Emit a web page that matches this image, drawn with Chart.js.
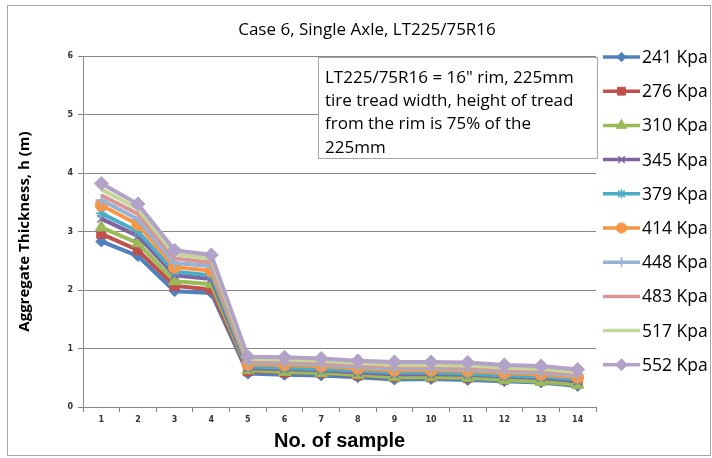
<!DOCTYPE html>
<html><head><meta charset="utf-8">
<script src="https://cdn.jsdelivr.net/npm/chart.js@4"></script>
<style>html,body{margin:0;padding:0;background:#fff}#wrap{width:712px;height:458px;position:relative}</style>
</head><body><div id="wrap"><canvas id="c" width="712" height="458"></canvas></div>
<script>
const chartTitle = 'Case 6, Single Axle, LT225/75R16';
const xAxisTitle = 'No. of sample';
const yAxisTitle = 'Aggregate Thickness, h (m)';
const noteLines = ['LT225/75R16 = 16" rim, 225mm', 'tire tread width, height of tread', 'from the rim is 75% of the', '225mm'];
const samples = ['1','2','3','4','5','6','7','8','9','10','11','12','13','14'];
const yTicks = [0,1,2,3,4,5,6];
const seriesNames = ['241 Kpa','276 Kpa','310 Kpa','345 Kpa','379 Kpa','414 Kpa','448 Kpa','483 Kpa','517 Kpa','552 Kpa'];
const s241 = [2.83,2.58,1.98,1.95,0.57,0.55,0.54,0.51,0.47,0.48,0.46,0.44,0.42,0.36];
const s276 = [2.96,2.68,2.07,2.01,0.61,0.59,0.58,0.54,0.51,0.51,0.50,0.47,0.45,0.40];
const s310 = [3.07,2.80,2.15,2.10,0.63,0.60,0.58,0.55,0.51,0.51,0.50,0.46,0.43,0.38];
const s345 = [3.22,2.92,2.25,2.19,0.66,0.65,0.63,0.59,0.56,0.56,0.55,0.52,0.50,0.44];
const s379 = [3.31,3.00,2.31,2.25,0.69,0.67,0.65,0.62,0.59,0.59,0.57,0.54,0.52,0.47];
const s414 = [3.45,3.12,2.39,2.33,0.73,0.72,0.70,0.66,0.63,0.63,0.62,0.58,0.56,0.51];
const s448 = [3.54,3.21,2.46,2.41,0.76,0.75,0.73,0.69,0.66,0.66,0.65,0.61,0.59,0.54];
const s483 = [3.62,3.30,2.54,2.47,0.79,0.78,0.76,0.72,0.69,0.69,0.68,0.64,0.62,0.57];
const s517 = [3.72,3.39,2.61,2.54,0.82,0.81,0.79,0.75,0.72,0.72,0.71,0.67,0.65,0.60];
const s552 = [3.82,3.47,2.68,2.60,0.86,0.85,0.83,0.79,0.77,0.77,0.76,0.72,0.70,0.64];

const seriesValues = [s241,s276,s310,s345,s379,s414,s448,s483,s517,s552];
const colors = ['#4F81BD','#C0504D','#9BBB59','#8064A2','#4BACC6','#F79646','#95B3D7','#D99694','#C3D69B','#B3A2C7'];
const markers = ['rectRot','rect','triangle','crossRot','star','circle','cross','circle','circle','rectRot'];
const radii = [5.5,6.5,7,5.5,5.5,6,6,0,0,7];

const datasets = seriesValues.map((vals, i) => ({
  label: seriesNames[i],
  data: vals,
  borderColor: colors[i],
  backgroundColor: colors[i],
  borderWidth: 4,
  pointStyle: markers[i],
  pointRadius: radii[i],
  pointBorderWidth: (markers[i]==='crossRot'||markers[i]==='star'||markers[i]==='cross') ? 1.5 : 1,
  pointBorderColor: colors[i],
  pointBackgroundColor: colors[i],
  tension: 0,
  order: 20 - i
}));

const decor = {
  id: 'decor',
  beforeDraw(chart) {
    const ctx = chart.ctx;
    ctx.save();
    ctx.fillStyle = '#fff';
    ctx.fillRect(0,0,chart.width,chart.height);
    ctx.strokeStyle = '#a6a6a6';
    ctx.lineWidth = 1;
    ctx.strokeRect(7.5, 5.5, 703, 450);
    ctx.fillStyle = '#000';
    ctx.font = '17px "Open Sans"';
    ctx.textAlign = 'center';
    ctx.textBaseline = 'middle';
    ctx.fillText(chartTitle, 367, 30);
    ctx.restore();
  },
  afterDatasetsDraw(chart) {
    const ctx = chart.ctx;
    ctx.save();
    // note box
    ctx.fillStyle = '#fff';
    ctx.fillRect(318, 57, 279, 101);
    ctx.strokeStyle = '#a6a6a6';
    ctx.lineWidth = 1;
    ctx.strokeRect(318.5, 57.5, 279, 101);
    ctx.fillStyle = '#000';
    ctx.font = '17px "Open Sans"';
    ctx.textAlign = 'left';
    ctx.textBaseline = 'middle';
    noteLines.forEach((t, k) => ctx.fillText(t, 325, 78 + k * 23.3));
    // legend
    chart.data.datasets.forEach((ds, i) => {
      const y = 57 + i * 34.2;
      ctx.strokeStyle = ds.borderColor;
      ctx.lineWidth = 3.5;
      ctx.beginPath();
      ctx.moveTo(603, y);
      ctx.lineTo(640, y);
      ctx.stroke();
      if (ds.pointRadius > 0) {
        ctx.fillStyle = ds.borderColor;
        ctx.strokeStyle = ds.borderColor;
        ctx.lineWidth = ds.pointBorderWidth;
        Chart.helpers.drawPoint(ctx, {pointStyle: ds.pointStyle, radius: ds.pointRadius * 0.85, borderWidth: ds.pointBorderWidth, rotation: 0}, 621.5, y);
      }
      ctx.fillStyle = '#000';
      ctx.font = '17.5px "Open Sans"';
      ctx.textAlign = 'left';
      ctx.textBaseline = 'middle';
      ctx.fillText(ds.label, 642, y + 1);
    });
    ctx.restore();
  }
};

new Chart(document.getElementById('c'), {
  type: 'line',
  data: { labels: samples, datasets },
  options: {
    responsive: false,
    animation: false,
    layout: { padding: { left: 0, top: 56, right: 116, bottom: 0 } },
    plugins: { legend: { display: false }, title: { display: false }, tooltip: { enabled: false } },
    scales: {
      x: {
        offset: true,
        afterFit(s) { s.height = 51; },
        grid: { display: true, drawOnChartArea: false, drawTicks: true, tickLength: 5, offset: true, color: '#868686' },
        border: { display: true, color: '#868686', width: 1 },
        ticks: { color: '#333', font: { family: '"DejaVu Sans"', size: 8, weight: 'bold' }, padding: 3, maxRotation: 0, autoSkip: false },
        title: { display: true, text: xAxisTitle, color: '#000', font: { family: '"Liberation Sans"', size: 20, weight: 'bold' }, padding: { bottom: 5 } }
      },
      y: {
        min: 0, max: 6,
        afterFit(s) { s.width = 83; },
        afterBuildTicks(s) { s.ticks = yTicks.map(v => ({ value: v })); },
        grid: { color: '#868686', tickLength: 5, drawTicks: true },
        border: { display: true, color: '#868686', width: 1 },
        ticks: { color: '#333', font: { family: '"DejaVu Sans"', size: 8, weight: 'bold' }, padding: 5 },
        title: { display: true, text: yAxisTitle, color: '#000', font: { family: '"Open Sans"', size: 15, weight: 'bold' }, padding: { top: 16 } }
      }
    }
  },
  plugins: [decor]
});
</script></body></html>
